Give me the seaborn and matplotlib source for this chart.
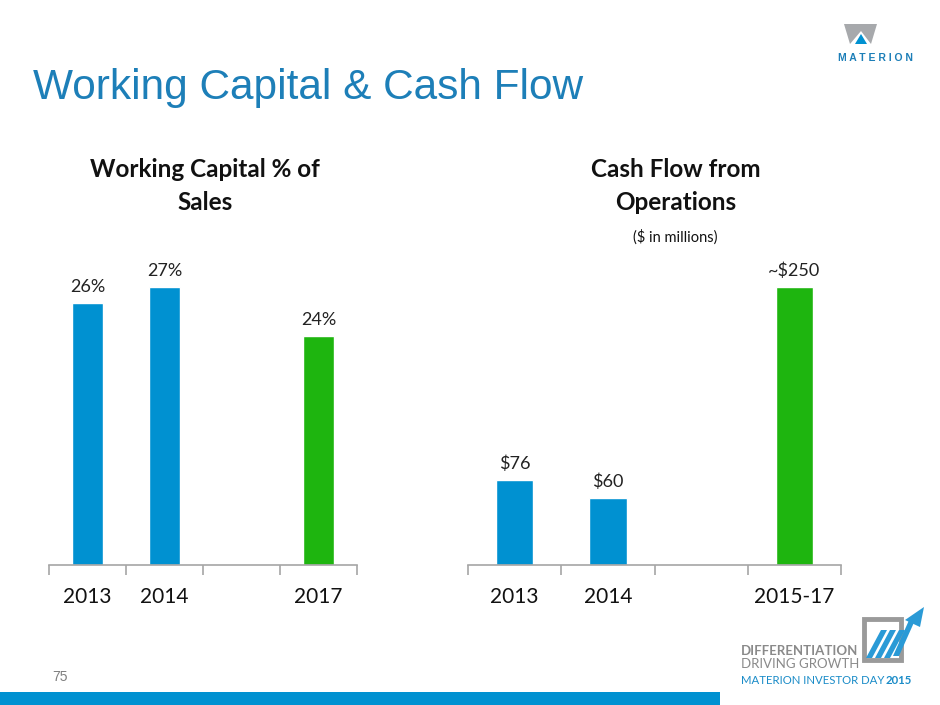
import numpy as np
import pandas as pd
import matplotlib
matplotlib.use('Agg')
import matplotlib.pyplot as plt
from matplotlib.patches import Rectangle, Polygon
import seaborn as sns

# DATA ---------------------------------------------------
wc_years = ['2013', '2014', '2017']
wc_pct = [25.4, 27.0, 22.2]
wc_labels = ['26%', '27%', '24%']
wc_order = ['2013', '2014', ' ', '2017']

cf_years = ['2013', '2014', '2015-17']
cf_musd = [76, 60, 250]
cf_labels = ['$76', '$60', '~$250']
cf_order = ['2013', '2014', ' ', '2015-17']

BLUE = '#0091d1'
GREEN = '#1eb50f'
TITLE_BLUE = '#1d7fb8'
palette_wc = {'2013': BLUE, '2014': BLUE, '2017': GREEN}
palette_cf = {'2013': BLUE, '2014': BLUE, '2015-17': GREEN}

sns.set_style('white')
plt.rcParams['font.family'] = ['Lato', 'DejaVu Sans']

W, H = 940, 705
fig = plt.figure(figsize=(W / 100, H / 100), dpi=100)

def px_axes(x0, x1, y0, y1):
    # pixel box (top-left origin) -> figure axes
    return fig.add_axes([x0 / W, 1 - y1 / H, (x1 - x0) / W, (y1 - y0) / H])

def bar_panel(ax, cats, vals, labels, order, pal, ymax):
    df = pd.DataFrame({'cat': cats, 'val': vals})
    sns.barplot(data=df, x='cat', y='val', hue='cat', order=order,
                palette=pal, width=0.4, saturation=1, legend=False, ax=ax)
    lab = dict(zip(cats, labels))
    for cont, c in zip(ax.containers, cats):
        ax.bar_label(cont, labels=[lab[c]], padding=6, fontsize=13, color='#222222')
    ax.set_xlim(-0.5, len(order) - 0.5)
    ax.set_ylim(0, ymax)
    ax.set_xlabel('')
    ax.set_ylabel('')
    ax.set_yticks([])
    for s in ['top', 'right', 'left']:
        ax.spines[s].set_visible(False)
    ax.spines['bottom'].set_color('#a6a6a6')
    ax.spines['bottom'].set_linewidth(1.2)
    ax.set_xticks(range(len(order)))
    ax.set_xticklabels(order)
    ax.set_xticks(np.arange(-0.5, len(order), 1.0), minor=True)
    ax.tick_params(axis='x', which='minor', bottom=True, length=7, width=1.2,
                   color='#a6a6a6', direction='out')
    ax.tick_params(axis='x', which='major', length=0, labelsize=15, pad=16, labelcolor='#111111')

ax1 = px_axes(49, 357, 260, 565)
bar_panel(ax1, wc_years, wc_pct, wc_labels, wc_order, palette_wc, 305 / 10.3)

ax2 = px_axes(468, 841, 260, 565)
bar_panel(ax2, cf_years, cf_musd, cf_labels, cf_order, palette_cf, 305 / 1.112)

# TEXTS --------------------------------------------------
fig.text(33 / W, 1 - 88 / H, 'Working Capital & Cash Flow', fontsize=30.5,
         color=TITLE_BLUE, family=['Liberation Sans', 'DejaVu Sans'], va='center', ha='left')
fig.text(205 / W, 1 - 186 / H, 'Working Capital % of\nSales', fontsize=17.5, fontweight='bold',
         ha='center', va='center', linespacing=1.55, color='#111111')
fig.text(676 / W, 1 - 186 / H, 'Cash Flow from\nOperations', fontsize=17.5, fontweight='bold',
         ha='center', va='center', linespacing=1.55, color='#111111')
fig.text(675 / W, 1 - 237 / H, '($ in millions)', fontsize=10.5, ha='center', va='center', color='#111111')
fig.text(52 / W, 1 - 677 / H, '75', fontsize=10, ha='left', va='center', color='#7f7f7f',
         family=['Liberation Sans', 'DejaVu Sans'])

# bottom bar
fig.patches.append(Rectangle((0, 0), 720 / W, 13 / H, transform=fig.transFigure,
                             facecolor=BLUE, edgecolor='none'))

def fpoly(pts, color):
    fig.patches.append(Polygon([(x / W, 1 - y / H) for x, y in pts], closed=True,
                               transform=fig.transFigure, facecolor=color, edgecolor='none'))

# top-right logo
fpoly([(844, 24), (877, 24), (871, 44), (861, 31), (850, 44)], '#a7a9ac')
fpoly([(855, 44), (861, 34), (867, 44)], BLUE)
fig.text(875 / W, 1 - 58 / H, 'M A T E R I O N', fontsize=7.5, fontweight='bold', color=TITLE_BLUE,
         ha='center', va='center', family=['Liberation Sans', 'DejaVu Sans'])

# bottom-right logo
fig.text(741 / W, 1 - 651 / H, 'DIFFERENTIATION', fontsize=9.5, fontweight='bold', color='#8a8a8a',
         ha='left', va='center')
fig.text(741 / W, 1 - 664 / H, 'DRIVING GROWTH', fontsize=9.5, color='#8a8a8a', ha='left', va='center')
fig.text(741 / W, 1 - 680 / H, 'MATERION INVESTOR DAY', fontsize=8.2, color='#1b8cc8', ha='left', va='center')
fig.text(886 / W, 1 - 680 / H, '2015', fontsize=8.2, fontweight='bold', color='#1b8cc8', ha='left', va='center')
fig.patches.append(Rectangle((864 / W, 1 - 660 / H), 37 / W, 41 / H, transform=fig.transFigure,
                             facecolor='none', edgecolor='#9a9a9a', linewidth=3.5))
for dx in (0, 9, 18):
    fpoly([(866 + dx, 658), (872 + dx, 658), (887 + dx, 630), (881 + dx, 630)], '#2a9ad6')
fpoly([(893, 656), (899, 656), (916, 618), (910, 618)], '#2a9ad6')
fpoly([(905, 620), (924, 607), (920, 627)], '#2a9ad6')

fig.savefig('out.png', dpi=100)
